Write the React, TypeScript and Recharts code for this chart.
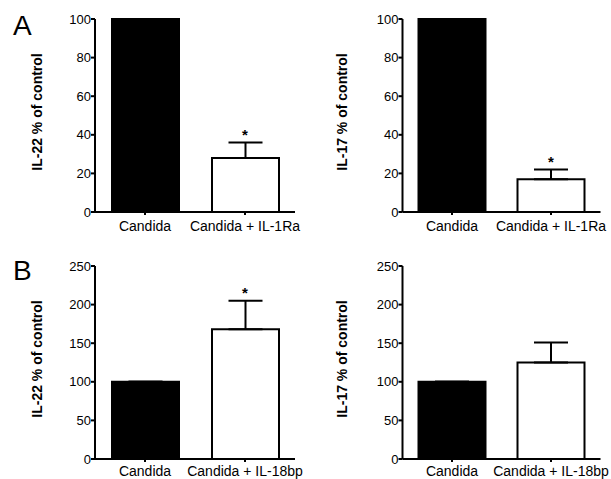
import React from 'react'
import {
  BarChart, Bar, Cell, XAxis, YAxis, ErrorBar, ReferenceDot, Label,
} from 'recharts'

const catsA = ['Candida', 'Candida + IL-1Ra']
const catsB = ['Candida', 'Candida + IL-18bp']

const il22A = [100, 28]
const il22AErr = [0, 8]
const il17A = [100, 17]
const il17AErr = [0, 5]
const il22B = [100, 168]
const il22BErr = [0, 37]
const il17B = [100, 125]
const il17BErr = [0, 26]

const sig22A = [false, true]
const sig17A = [false, true]
const sig22B = [false, true]
const sig17B = [false, false]

const ticksA = [0, 20, 40, 60, 80, 100]
const ticksB = [0, 50, 100, 150, 200, 250]

const fills = ['#000', '#fff']

const build = (cats: string[], vals: number[], errs: number[], sig: boolean[]) =>
  cats.map((c, i) => ({ name: c, value: vals[i], err: [0, errs[i]], top: vals[i] + errs[i], sig: sig[i] }))

interface PanelProps {
  data: { name: string, value: number, err: number[], top: number, sig: boolean }[]
  ticks: number[]
  ylabel: string
  left: number
  top: number
  width: number
  height: number
  axisW: number
  labelX: number
  marginTop: number
  marginRight: number
  xHeight: number
  xMargin: number
}

function Panel(p: PanelProps) {
  const ax = { stroke: '#000', strokeWidth: 2 }
  return (
    <div style={{ position: 'absolute', left: p.left, top: p.top }}>
      <BarChart width={p.width} height={p.height} data={p.data}
                margin={{ top: p.marginTop, right: p.marginRight, bottom: 0, left: 0 }}
                barSize={67}>
        <XAxis dataKey="name" height={p.xHeight} axisLine={ax} tickLine={ax}
               tickSize={3} tickMargin={p.xMargin}
               tick={{ fill: '#000', fontSize: 14 }} interval={0} />
        <YAxis width={p.axisW} domain={[0, p.ticks[p.ticks.length - 1]]} ticks={p.ticks}
               axisLine={ax} tickLine={ax} tickSize={4} tickMargin={0}
               tick={{ fill: '#000', fontSize: 13 }} interval={0}>
          <Label content={(lp: any) => {
            const vb = lp.viewBox || {}
            const cy = vb.y + vb.height / 2 - 3.5
            const x = p.labelX + 5
            return (
              <text x={x} y={cy} transform={`rotate(-90 ${x} ${cy})`} textAnchor="middle"
                    fontSize={14} fontWeight="bold" fill="#000">{p.ylabel}</text>
            )
          }} />
        </YAxis>
        <Bar dataKey="value" stroke="#000" strokeWidth={2} isAnimationActive={false}>
          {p.data.map((d, i) => <Cell key={d.name} fill={fills[i]} />)}
          <ErrorBar dataKey="err" width={17} stroke="#000" strokeWidth={2}
                    isAnimationActive={false} />
        </Bar>
        {p.data.filter(d => d.sig).map(d => (
          <ReferenceDot key={d.name} x={d.name} y={d.top} r={0} fill="none" stroke="none"
            label={(lp: any) => {
              const vb = lp.viewBox || {}
              return <text x={vb.x + (vb.width || 0) / 2} y={vb.y - 3} textAnchor="middle"
                           fontSize={15} fontWeight="bold" fill="#000">*</text>
            }} />
        ))}
      </BarChart>
    </div>
  )
}

export default function App() {
  return (
    <div style={{ position: 'absolute', left: 0, top: 0, width: 611, height: 479,
                  background: '#fff', fontFamily: '"Liberation Sans", Arial, sans-serif' }}>
      <Panel data={build(catsA, il22A, il22AErr, sig22A)} ticks={ticksA} ylabel="IL-22 % of control"
             left={0} top={0} width={312} height={240} axisW={95} labelX={36.5}
             marginTop={19} marginRight={17} xHeight={28} xMargin={6} />
      <Panel data={build(catsA, il17A, il17AErr, sig17A)} ticks={ticksA} ylabel="IL-17 % of control"
             left={300} top={0} width={311} height={240} axisW={102.5} labelX={42}
             marginTop={19} marginRight={10.5} xHeight={28} xMargin={6} />
      <Panel data={build(catsB, il22B, il22BErr, sig22B)} ticks={ticksB} ylabel="IL-22 % of control"
             left={0} top={240} width={312} height={239} axisW={95} labelX={36.5}
             marginTop={26} marginRight={17} xHeight={20} xMargin={4} />
      <Panel data={build(catsB, il17B, il17BErr, sig17B)} ticks={ticksB} ylabel="IL-17 % of control"
             left={300} top={240} width={311} height={239} axisW={102.5} labelX={42}
             marginTop={26} marginRight={10.5} xHeight={20} xMargin={4} />
      <svg width={611} height={479} style={{ position: 'absolute', left: 0, top: 0, pointerEvents: 'none' }}>
        <text x={13} y={35} fontSize={28} fill="#000">A</text>
        <text x={13} y={280} fontSize={28} fill="#000">B</text>
      </svg>
    </div>
  )
}
